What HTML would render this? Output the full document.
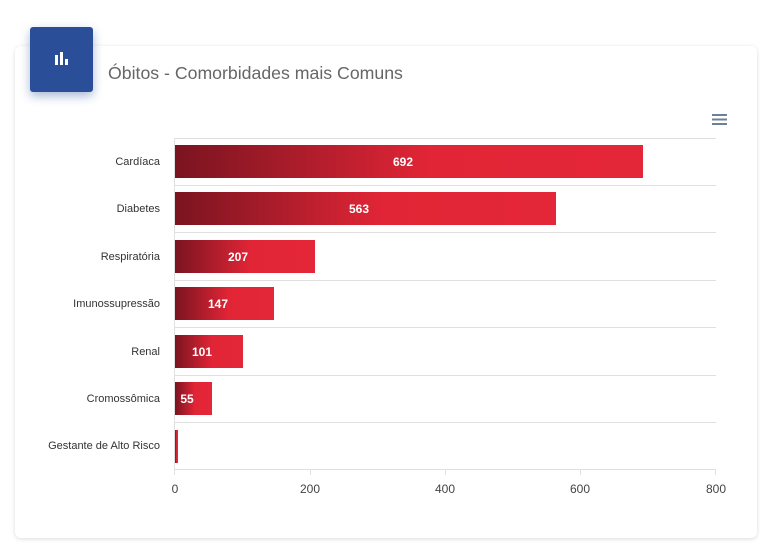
<!DOCTYPE html>
<html><head><meta charset="utf-8"><style>
body{margin:0;width:771px;height:546px;background:#fff;font-family:"Liberation Sans",sans-serif;overflow:hidden;position:relative}
.card{position:absolute;left:15px;top:46px;width:742px;height:492px;background:#fff;border-radius:6px;box-shadow:0 1px 4px rgba(0,0,0,0.14)}
.icon{position:absolute;left:30px;top:27px;width:63px;height:65px;background:#2a4f98;border-radius:3px;box-shadow:0 4px 10px rgba(42,79,152,0.4)}
.title{position:absolute;left:108px;top:63px;font-size:17.7px;color:#666;font-weight:300}
svg{position:absolute;left:0;top:0}
</style></head><body>
<div class="card"></div>
<div class="icon"><svg width="63" height="65"><rect x="25" y="28" width="3" height="10" fill="#fff"/><rect x="30" y="25" width="3" height="13" fill="#fff"/><rect x="35" y="32" width="3" height="6" fill="#fff"/></svg></div>
<div class="title">Óbitos - Comorbidades mais Comuns</div>
<svg width="771" height="546" style="pointer-events:none">
<defs><linearGradient id="g" x1="0" x2="1" y1="0" y2="0"><stop offset="0" stop-color="#7a1420"/><stop offset="0.55" stop-color="#e22536"/><stop offset="1" stop-color="#e42738"/></linearGradient></defs>
<g stroke="#6e8192" stroke-width="2"><line x1="712" y1="115" x2="727" y2="115"/><line x1="712" y1="119.5" x2="727" y2="119.5"/><line x1="712" y1="124" x2="727" y2="124"/></g>
<g stroke="#e0e0e0" stroke-width="1">
<line x1="175" y1="138.5" x2="716" y2="138.5"/><line x1="175" y1="185.5" x2="716" y2="185.5"/><line x1="175" y1="232.5" x2="716" y2="232.5"/><line x1="175" y1="280.5" x2="716" y2="280.5"/><line x1="175" y1="327.5" x2="716" y2="327.5"/><line x1="175" y1="375.5" x2="716" y2="375.5"/><line x1="175" y1="422.5" x2="716" y2="422.5"/><line x1="175" y1="469.5" x2="716" y2="469.5"/>
<line x1="174.5" y1="138" x2="174.5" y2="475"/><line x1="310.5" y1="469" x2="310.5" y2="475"/><line x1="445.5" y1="469" x2="445.5" y2="475"/><line x1="580.5" y1="469" x2="580.5" y2="475"/><line x1="715.5" y1="469" x2="715.5" y2="475"/>
</g>
<g fill="url(#g)">
<rect x="175" y="145" width="468" height="33"/><rect x="175" y="192" width="381" height="33"/><rect x="175" y="240" width="140" height="33"/><rect x="175" y="287" width="99" height="33"/><rect x="175" y="335" width="68" height="33"/><rect x="175" y="382" width="37" height="33"/><rect x="175" y="430" width="3" height="33"/>
</g>
<g fill="#fff" font-size="12" font-weight="bold" text-anchor="middle">
<text x="403" y="166">692</text><text x="359" y="213">563</text><text x="238" y="261">207</text><text x="218" y="308">147</text><text x="202" y="356">101</text><text x="187" y="403">55</text>
</g>
<g fill="#333" font-size="11" text-anchor="end">
<text x="160" y="165">Cardíaca</text><text x="160" y="212">Diabetes</text><text x="160" y="260">Respiratória</text><text x="160" y="307">Imunossupressão</text><text x="160" y="355">Renal</text><text x="160" y="402">Cromossômica</text><text x="160" y="449">Gestante de Alto Risco</text>
</g>
<g fill="#444" font-size="12" text-anchor="middle">
<text x="175" y="493">0</text><text x="310" y="493">200</text><text x="445" y="493">400</text><text x="580" y="493">600</text><text x="716" y="493">800</text>
</g>
</svg>
</body></html>
